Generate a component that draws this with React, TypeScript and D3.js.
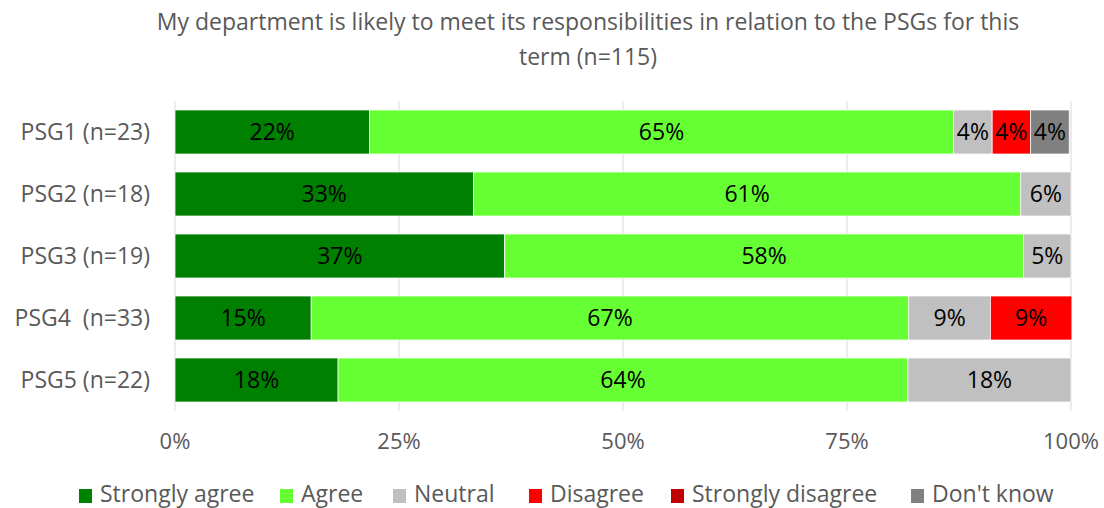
import React from "react";
import * as d3 from "d3";

const categories = ["PSG1 (n=23)", "PSG2 (n=18)", "PSG3 (n=19)", "PSG4  (n=33)", "PSG5 (n=22)"];
const seriesNames = ["Strongly agree", "Agree", "Neutral", "Disagree", "Strongly disagree", "Don't know"];
const seriesColors = ["#008000", "#66FF33", "#C0C0C0", "#FF0000", "#C00000", "#808080"];
const stronglyAgree = [21.7, 33.3, 36.8, 15.2, 18.2];
const agree = [65.2, 61.1, 57.9, 66.7, 63.6];
const neutral = [4.3, 5.6, 5.3, 9.1, 18.2];
const disagree = [4.3, 0, 0, 9.1, 0];
const stronglyDisagree = [0, 0, 0, 0, 0];
const dontKnow = [4.3, 0, 0, 0, 0];
const xTicks = [0, 25, 50, 75, 100];
const titleLines = ["My department is likely to meet its responsibilities in relation to the PSGs for this", "term (n=115)"];

const FONT = "'Open Sans', sans-serif";

export default function App() {
  const W = 1104, H = 508;
  const x = d3.scaleLinear().domain([0, 100]).range([175, 1071]);
  const y = d3.scaleBand().domain(categories).range([101, 411]).paddingInner(0.29).paddingOuter(0.145);
  const series = [stronglyAgree, agree, neutral, disagree, stronglyDisagree, dontKnow];
  const rows = categories.map((c, i) => {
    const o: any = { cat: c };
    seriesNames.forEach((s, j) => (o[s] = series[j][i]));
    return o;
  });
  const stacked = d3.stack().keys(seriesNames)(rows);

  const legendX = [79, 280, 393, 529, 671, 911];

  return (
    <svg width={W} height={H} style={{ position: "absolute", left: 0, top: 0, background: "#fff" }}>
      <rect width={W} height={H} fill="#fff" />
      {titleLines.map((t, i) => (
        <text key={i} x={588} y={30 + i * 35} textAnchor="middle" fontFamily={FONT} fontSize={23} fill="#595959">
          {t}
        </text>
      ))}
      {xTicks.map((t) => (
        <line key={t} x1={x(t)} x2={x(t)} y1={101} y2={411} stroke="#D9D9D9" strokeWidth={1} />
      ))}
      {stacked.map((layer, j) =>
        layer.map((d, i) => {
          const v = d[1] - d[0];
          if (v <= 0) return null;
          const cat = categories[i];
          return (
            <g key={`${j}-${i}`}>
              <rect x={x(d[0])} y={y(cat)!} width={x(d[1]) - x(d[0])} height={y.bandwidth()} fill={seriesColors[j]} stroke="#fff" strokeWidth={0.75} />
              <text x={(x(d[0]) + x(d[1])) / 2} y={y(cat)! + y.bandwidth() / 2 + 8} textAnchor="middle" fontFamily={FONT} fontSize={23} fill="#000">
                {Math.round(v)}%
              </text>
            </g>
          );
        })
      )}
      {categories.map((c) => (
        <text key={c} x={150} y={y(c)! + y.bandwidth() / 2 + 8} textAnchor="end" fontFamily={FONT} fontSize={23} fill="#595959" style={{ whiteSpace: "pre" }}>
          {c}
        </text>
      ))}
      {xTicks.map((t) => (
        <text key={t} x={x(t)} y={449} textAnchor="middle" fontFamily={FONT} fontSize={22} fill="#595959">
          {t}%
        </text>
      ))}
      {seriesNames.map((s, j) => (
        <g key={s}>
          <rect x={legendX[j]} y={489} width={13} height={14} fill={seriesColors[j]} />
          <text x={legendX[j] + 21} y={502} fontFamily={FONT} fontSize={23} fill="#595959">
            {s}
          </text>
        </g>
      ))}
    </svg>
  );
}
